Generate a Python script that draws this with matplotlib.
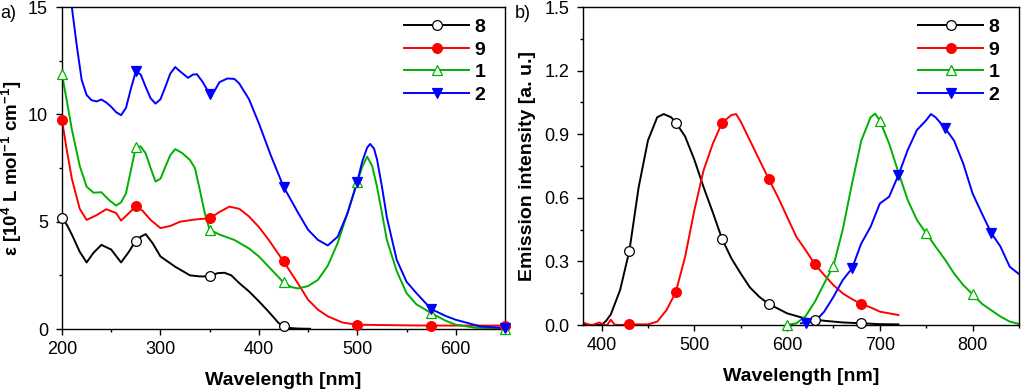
import numpy as np
import matplotlib
matplotlib.use('Agg')
import matplotlib.pyplot as plt
from matplotlib.lines import Line2D
from matplotlib.ticker import MultipleLocator

plt.rcParams['font.family'] = ['Liberation Sans', 'DejaVu Sans']
plt.rcParams['mathtext.fontset'] = 'custom'
plt.rcParams['mathtext.rm'] = 'Liberation Sans'
plt.rcParams['mathtext.bf'] = 'Liberation Sans:bold'

# ---- a) absorption, epsilon [10^4 L/mol/cm] ----
abs_x_8 = [200, 205, 210, 218, 225, 232, 240, 250, 260, 268, 275, 280, 285, 292, 300, 315, 330,
           340, 350, 358, 365, 372, 380, 390, 400, 410, 420, 425, 430, 440, 452]
abs_y_8 = [5.16, 4.85, 4.4, 3.6, 3.1, 3.55, 3.92, 3.7, 3.1, 3.6, 4.12, 4.3, 4.42, 4.0, 3.38, 2.9, 2.5,
           2.45, 2.45, 2.6, 2.62, 2.5, 2.14, 1.75, 1.29, 0.8, 0.28, 0.12, 0.05, 0.02, 0.01]
abs_x_9 = [200, 205, 210, 218, 225, 235, 245, 255, 260, 268, 275, 282, 290, 300, 310, 320, 335,
           350, 360, 370, 380, 390, 400, 410, 425, 440, 450, 460, 470, 485, 500, 550, 575, 600, 650]
abs_y_9 = [9.73, 8.3, 7.0, 5.6, 5.08, 5.3, 5.58, 5.4, 5.05, 5.4, 5.73, 5.5, 5.08, 4.7, 4.8, 5.0, 5.1,
           5.16, 5.45, 5.7, 5.6, 5.24, 4.75, 4.15, 3.15, 2.1, 1.36, 0.9, 0.59, 0.3, 0.2, 0.17, 0.16, 0.16, 0.16]
abs_x_1 = [200, 205, 210, 218, 225, 232, 240, 248, 255, 260, 265, 270, 275, 280, 285, 290, 295, 300,
           305, 310, 315, 322, 330, 335, 340, 345, 350, 360, 375, 390, 400, 412, 425, 433, 440, 450,
           460, 470, 480, 490, 500, 505, 510, 515, 520, 525, 530, 540, 550, 560, 575, 590, 600, 620, 650]
abs_y_1 = [11.87, 10.6, 9.3, 7.6, 6.63, 6.35, 6.37, 6.0, 5.75, 5.9, 6.32, 7.4, 8.49, 8.5, 8.18, 7.5,
           6.87, 7.0, 7.56, 8.1, 8.38, 8.2, 7.87, 7.5, 6.48, 5.4, 4.62, 4.4, 4.15, 3.75, 3.38, 2.8,
           2.17, 1.95, 1.89, 2.0, 2.29, 2.95, 4.0, 5.4, 6.87, 7.55, 8.03, 7.6, 6.63, 5.4, 4.15, 2.7,
           1.67, 1.15, 0.74, 0.38, 0.2, 0.06, 0.02]
abs_x_2 = [205, 210, 215, 220, 225, 230, 235, 240, 245, 250, 255, 260, 265, 270, 275, 280, 285, 290,
           295, 300, 305, 310, 315, 320, 328, 333, 337, 343, 350, 355, 360, 368, 375, 380, 390, 400,
           412, 425, 440, 450, 460, 470, 480, 490, 500, 505, 510, 513, 517, 520, 525, 530, 540, 550,
           560, 575, 590, 600, 625, 650]
abs_y_2 = [16.5, 15.0, 13.2, 11.6, 10.9, 10.66, 10.6, 10.69, 10.55, 10.35, 10.1, 9.96, 10.3, 11.2, 12.0,
           11.85, 11.28, 10.75, 10.5, 10.7, 11.28, 11.9, 12.2, 12.0, 11.7, 11.85, 11.87, 11.5, 10.94, 11.1,
           11.5, 11.67, 11.65, 11.44, 10.7, 9.58, 8.1, 6.63, 5.4, 4.62, 4.15, 3.89, 4.3, 5.39, 6.87,
           7.8, 8.45, 8.62, 8.4, 7.9, 6.63, 5.2, 3.22, 2.2, 1.67, 0.93, 0.6, 0.43, 0.12, 0.05]
abs_marks = [200, 275, 350, 425, 500, 575, 650]

# ---- b) normalised emission ----
em_x_8 = [380, 400, 405, 410, 420, 430, 440, 450, 460, 467, 475, 480, 490, 500, 510, 520, 530, 540,
          550, 560, 570, 580, 600, 620, 630, 640, 660, 680, 700, 720]
em_y_8 = [0.0, 0.0, 0.02, 0.05, 0.165, 0.35, 0.65, 0.87, 0.98, 0.995, 0.98, 0.955, 0.89, 0.78, 0.65,
          0.53, 0.405, 0.314, 0.243, 0.177, 0.133, 0.1, 0.055, 0.03, 0.025, 0.02, 0.012, 0.008, 0.004, 0.003]
em_x_9 = [380, 385, 390, 398, 402, 406, 410, 414, 420, 430, 450, 460, 470, 480, 490, 500, 510, 520,
          530, 540, 545, 550, 560, 570, 580, 590, 600, 610, 620, 630, 640, 650, 660, 670, 680, 690,
          700, 710, 720]
em_y_9 = [0.012, 0.004, 0.0, 0.012, 0.0, 0.0, 0.025, 0.002, 0.0, 0.003, 0.003, 0.016, 0.07, 0.155, 0.32,
          0.54, 0.73, 0.856, 0.955, 0.99, 0.995, 0.96, 0.87, 0.78, 0.69, 0.605, 0.51, 0.416, 0.353,
          0.286, 0.236, 0.188, 0.149, 0.122, 0.099, 0.083, 0.063, 0.055, 0.047]
em_x_1 = [600, 610, 620, 630, 640, 650, 660, 670, 680, 690, 695, 700, 710, 720, 730, 740, 750, 760,
          770, 780, 790, 800, 810, 820, 830, 840, 850]
em_y_1 = [0.0, 0.008, 0.042, 0.11, 0.196, 0.28, 0.45, 0.667, 0.87, 0.98, 0.997, 0.963, 0.856, 0.72,
          0.59, 0.495, 0.432, 0.37, 0.31, 0.243, 0.188, 0.145, 0.1, 0.07, 0.04, 0.016, 0.005]
em_x_2 = [615, 620, 630, 640, 650, 660, 670, 680, 690, 700, 710, 720, 730, 740, 750, 755, 760, 770,
          780, 790, 800, 810, 820, 830, 840, 850]
em_y_2 = [0.008, 0.011, 0.016, 0.063, 0.133, 0.212, 0.267, 0.385, 0.463, 0.573, 0.605, 0.707, 0.825,
          0.92, 0.966, 0.995, 0.98, 0.93, 0.87, 0.76, 0.62, 0.526, 0.435, 0.37, 0.275, 0.24]
em_marks_8 = [430, 480, 530, 580, 630, 680]
em_marks_9 = [430, 480, 530, 580, 630, 680]
em_marks_1 = [600, 650, 700, 750, 800]
em_marks_2 = [620, 670, 720, 770, 820]

labels = ['8', '9', '1', '2']
colors = ['black', 'red', '#00b000', 'blue']
markers = ['o', 'o', '^', 'v']
faces = ['white', 'red', 'white', 'blue']

fig = plt.figure(figsize=(10.24, 3.9), dpi=100)
ax1 = fig.add_axes([62 / 1024, 61 / 390, 443 / 1024, 322 / 390])
ax2 = fig.add_axes([583 / 1024, 65 / 390, 436 / 1024, 318 / 390])


def draw(ax, xs, ys, marks, i):
    x = np.array(xs)
    y = np.array(ys)
    ax.plot(x, y, color=colors[i], lw=1.4)
    idx = np.isin(x, marks)
    ax.plot(x[idx], y[idx], ls='none', marker=markers[i], ms=7, mfc=faces[i],
            mec=colors[i], mew=0.9, clip_on=False, zorder=3)


for i, (xs, ys) in enumerate([(abs_x_8, abs_y_8), (abs_x_9, abs_y_9),
                              (abs_x_1, abs_y_1), (abs_x_2, abs_y_2)]):
    draw(ax1, xs, ys, abs_marks, i)

for i, (xs, ys, mk) in enumerate([(em_x_8, em_y_8, em_marks_8), (em_x_9, em_y_9, em_marks_9),
                                  (em_x_1, em_y_1, em_marks_1), (em_x_2, em_y_2, em_marks_2)]):
    draw(ax2, xs, ys, mk, i)

handles = [Line2D([], [], color=colors[i], lw=1.4, marker=markers[i], ms=7,
                  mfc=faces[i], mec=colors[i], mew=0.9) for i in range(4)]

ax1.set_xlim(200, 650)
ax1.set_ylim(0, 15)
ax1.xaxis.set_major_locator(MultipleLocator(100))
ax1.xaxis.set_minor_locator(MultipleLocator(50))
ax1.yaxis.set_major_locator(MultipleLocator(5))
ax1.yaxis.set_minor_locator(MultipleLocator(2.5))
ax1.set_xlabel('Wavelength [nm]', fontweight='bold', fontsize=14, labelpad=10)
ax1.set_ylabel(r'ε [10$^{\mathbf{4}}$ L mol$^{\mathbf{-1}}$ cm$^{\mathbf{-1}}$]',
               fontweight='bold', fontsize=13.5, labelpad=3)

ax2.set_xlim(380, 850)
ax2.set_ylim(0, 1.5)
ax2.xaxis.set_major_locator(MultipleLocator(100))
ax2.xaxis.set_minor_locator(MultipleLocator(50))
ax2.yaxis.set_major_locator(MultipleLocator(0.3))
ax2.yaxis.set_minor_locator(MultipleLocator(0.15))
ax2.yaxis.set_major_formatter(plt.FormatStrFormatter('%.1f'))
ax2.set_xlabel('Wavelength [nm]', fontweight='bold', fontsize=14, labelpad=10)
ax2.set_ylabel('Emission intensity [a. u.]', fontweight='bold', fontsize=14, labelpad=6)

for ax in (ax1, ax2):
    ax.tick_params(which='major', direction='out', length=4, width=1, labelsize=13)
    ax.tick_params(which='minor', direction='out', length=2.5, width=1)
    ax.tick_params(axis='x', which='major', pad=5)
    ax.tick_params(axis='y', which='major', pad=6)
    for s in ax.spines.values():
        s.set_linewidth(1)
    w = ax.get_position().width * 1024
    ax.legend(handles, labels, loc='upper right', bbox_to_anchor=(1 - 8 / w, 1),
              frameon=False, handlelength=3.3,
              prop={'weight': 'bold', 'size': 14}, labelspacing=0.25,
              handletextpad=0.3, borderaxespad=0.3, borderpad=0.3)

fig.text(0 / 1024, 385 / 390, 'a)', fontsize=13, va='top', ha='left')
fig.text(515 / 1024, 385 / 390, 'b)', fontsize=13, va='top', ha='left')

fig.savefig('out.png', dpi=100)
